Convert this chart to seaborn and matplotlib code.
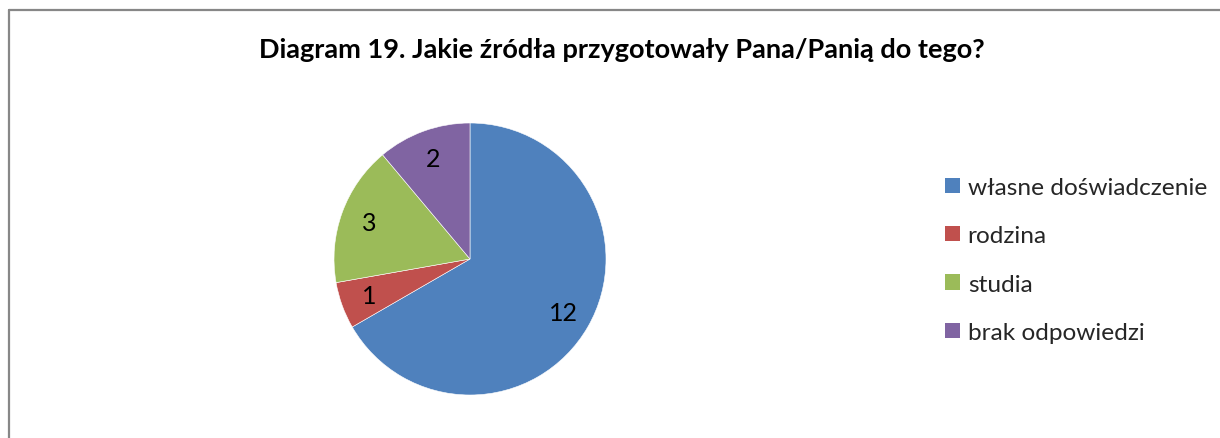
import matplotlib
matplotlib.use("Agg")
import matplotlib.pyplot as plt
import seaborn as sns
from matplotlib.lines import Line2D
from matplotlib.patches import Patch

categories = ["własne doświadczenie", "rodzina", "studia", "brak odpowiedzi"]
values = [12, 1, 3, 2]
colors = ["#4F81BD", "#C0504D", "#9BBB59", "#8064A2"]
title = "Diagram 19. Jakie źródła przygotowały Pana/Panią do tego?"

sns.set_theme(style="white")
plt.rcParams["font.family"] = ["Lato", "DejaVu Sans"]

W, H = 1220, 439
fig = plt.figure(figsize=(W / 100, H / 100), dpi=100)
fig.patch.set_facecolor("white")

cx, cy, r = 470, 260, 136
ax = fig.add_axes([(cx - r) / W, (H - cy - r) / H, 2 * r / W, 2 * r / H])

total = sum(values)
wedges, texts, autotexts = ax.pie(
    values,
    colors=colors,
    startangle=90,
    counterclock=False,
    autopct=lambda p: f"{round(p * total / 100):d}",
    pctdistance=0.79,
    wedgeprops=dict(edgecolor="white", linewidth=0.4),
    textprops=dict(fontsize=18, color="black"),
)
ax.set_xlim(-1, 1)
ax.set_ylim(-1, 1)
ax.set_aspect("equal")
ax.axis("off")

fig.text(622 / W, 1 - 50 / H, title, ha="center", va="center",
         fontsize=19.5, fontweight="bold", color="black")

handles = [Patch(facecolor=c, edgecolor="none") for c in colors]
fig.legend(handles, categories, loc="center left",
           bbox_to_anchor=(945 / W, 1 - 261 / H), frameon=False,
           fontsize=17.6, handlelength=0.6, handleheight=0.6,
           handletextpad=0.33, labelspacing=1.12, borderpad=0,
           borderaxespad=0)

lc = "#878787"
fig.add_artist(Line2D([8.5 / W, 1.0], [1 - 10.5 / H, 1 - 10.5 / H],
                      transform=fig.transFigure, color=lc, lw=1.6))
fig.add_artist(Line2D([8.5 / W, 8.5 / W], [0, 1 - 10.5 / H],
                      transform=fig.transFigure, color=lc, lw=1.6))

fig.savefig("out.png", dpi=100, facecolor="white")
